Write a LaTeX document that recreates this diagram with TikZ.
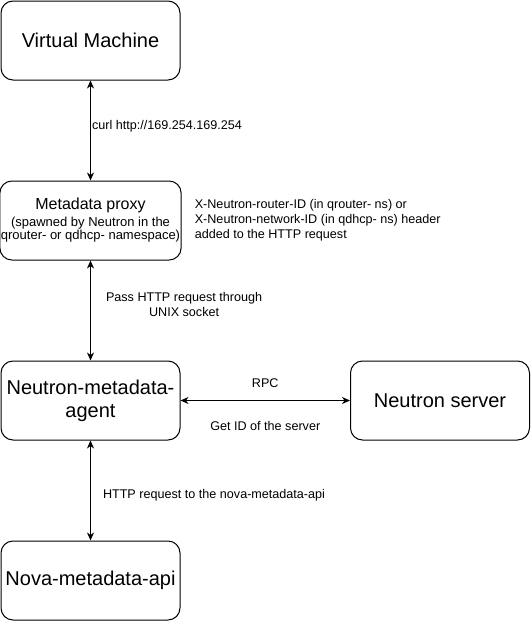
\documentclass[tikz,border=0pt]{standalone}
\usepackage{fontspec}
\setmainfont{Liberation Sans}
\usetikzlibrary{arrows.meta, positioning}

\begin{document}
\begin{tikzpicture}[x=1pt, y=-1pt,
  box/.style={draw, line width=1pt, rounded corners=12pt, minimum width=179pt, minimum height=79pt, inner sep=1pt, align=center, font=\fontsize{20}{23}\selectfont},
  link/.style={{Stealth[length=8pt,width=7pt,inset=2.5pt]}-{Stealth[length=8pt,width=7pt,inset=2.5pt]}, line width=1pt},
  lbl/.style={inner sep=0pt, align=center, font=\fontsize{12.6}{15}\selectfont}]
  \useasboundingbox (0,0) rectangle (531,621);

  % Boxes
  \node[box] (vm) at (90.5,40.5) {Virtual Machine};
  \node[box, font=\fontsize{13}{13}\selectfont] (proxy) at (90.5,220.5) {{\fontsize{16}{16}\selectfont Metadata proxy}\\[4pt] (spawned by Neutron in the\\ qrouter- or qdhcp- namespace)};
  \node[box] (agent) at (90.5,400.5) {Neutron-metadata-\\agent};
  \node[box] (server) at (440,400.5) {Neutron server};
  \node[box] (nova) at (90.5,580.5) {Nova-metadata-api};

  % Header note
  \node[lbl, align=left, right=13pt of proxy.east] (header) {X-Neutron-router-ID (in qrouter- ns) or\\X-Neutron-network-ID (in qdhcp- ns) header\\added to the HTTP request};

  % Links
  \draw[link] (vm) -- node[lbl, right=1pt, pos=0.46] {curl http://169.254.169.254} (proxy);
  \draw[link] (proxy) -- node[lbl, right=15pt, pos=0.44] {Pass HTTP request through\\UNIX socket} (agent);
  \draw[link] (agent) -- node[lbl, right=12pt, pos=0.55] {HTTP request to the nova-metadata-api} (nova);
  \draw[link] (agent) -- node[lbl, above=12.5pt] {RPC} node[lbl, below=20pt] {Get ID of the server} (server);
\end{tikzpicture}
\end{document}
